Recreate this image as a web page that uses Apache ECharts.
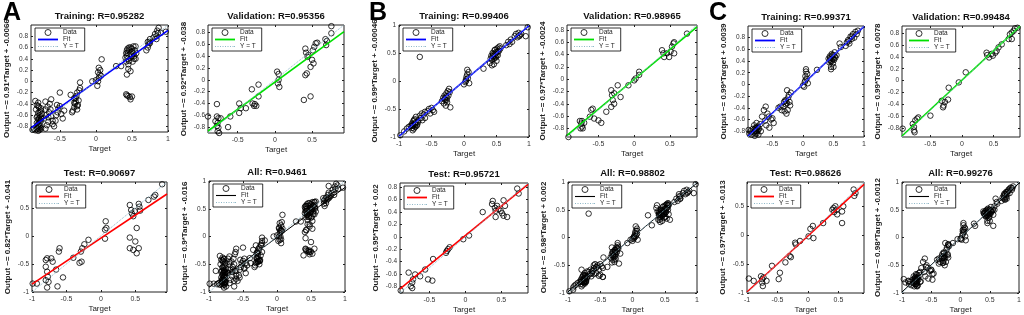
<!DOCTYPE html>
<html>
<head>
<meta charset="utf-8">
<script src="https://cdn.jsdelivr.net/npm/echarts@6/dist/echarts.min.js"></script>
<style>
  html, body { margin: 0; padding: 0; background: #fff; }
  #chart { width: 1024px; height: 315px; }
</style>
</head>
<body>
<div id="chart"></div>
<script>
// ---- data: [target, output] pairs ----
const aTrain = [
  [-0.88,-0.86],[-0.86,-0.84],[-0.84,-0.87],[-0.82,-0.85],[-0.8,-0.88],[-0.78,-0.86],[-0.76,-0.84],[-0.81,-0.82],
  [-0.79,-0.8],[-0.77,-0.78],[-0.8,-0.76],[-0.82,-0.74],[-0.78,-0.72],[-0.76,-0.7],[-0.8,-0.68],[-0.79,-0.66],
  [-0.77,-0.64],[-0.81,-0.62],[-0.78,-0.6],[-0.8,-0.56],[-0.83,-0.5],[-0.79,-0.46],[-0.82,-0.42],[-0.8,-0.38],
  [-0.84,-0.35],[-0.76,-0.52],[-0.75,-0.58],[-0.7,-0.84],[-0.68,-0.78],[-0.66,-0.72],[-0.72,-0.66],[-0.69,-0.6],
  [-0.65,-0.55],[-0.7,-0.5],[-0.67,-0.45],[-0.64,-0.4],[-0.7,-0.36],[-0.62,-0.32],[-0.6,-0.7],[-0.62,-0.62],
  [-0.58,-0.8],[-0.6,-0.76],[-0.55,-0.6],[-0.53,-0.55],[-0.52,-0.48],[-0.5,-0.44],[-0.54,-0.42],[-0.5,-0.2],
  [-0.48,-0.58],[-0.46,-0.66],[-0.44,-0.52],[-0.56,-0.7],[-0.32,-0.52],[-0.3,-0.46],[-0.29,-0.4],[-0.28,-0.36],
  [-0.3,-0.3],[-0.27,-0.26],[-0.26,-0.2],[-0.25,-0.42],[-0.24,-0.34],[-0.23,-0.16],[-0.22,-0.12],[-0.22,-0.02],
  [-0.33,-0.55],[-0.35,-0.24],[-0.26,-0.5],[-0.05,0.0],[0.02,-0.08],[0.03,0.0],[0.04,0.06],[0.05,0.12],
  [0.03,0.16],[0.06,0.2],[0.04,0.24],[0.07,0.1],[0.08,0.39],[0.0,0.02],[0.28,0.27],[0.35,0.27],
  [0.42,0.5],[0.43,0.45],[0.44,0.4],[0.42,0.35],[0.45,0.3],[0.43,0.55],[0.46,0.6],[0.47,0.48],
  [0.48,0.42],[0.5,0.52],[0.5,0.58],[0.52,0.62],[0.53,0.45],[0.51,0.35],[0.54,0.55],[0.55,0.62],
  [0.45,0.22],[0.43,0.12],[0.48,0.18],[0.55,0.4],[0.56,0.5],[0.41,0.42],[0.42,-0.23],[0.43,-0.25],
  [0.45,-0.26],[0.47,-0.28],[0.5,-0.27],[0.48,-0.32],[0.7,0.55],[0.72,0.6],[0.73,0.65],[0.74,0.7],
  [0.75,0.75],[0.72,0.7],[0.8,0.78],[0.82,0.84],[0.84,0.8],[0.85,0.9],[0.87,0.95],[0.9,0.86],
  [0.97,0.88],[0.84,0.75],[-0.79,-0.84],[-0.77,-0.82],[-0.81,-0.78],[-0.78,-0.74],[-0.76,-0.66],[-0.82,-0.64],
  [-0.78,-0.54],[-0.76,-0.48],[-0.8,-0.44],[-0.66,-0.64],[-0.63,-0.5],[-0.28,-0.3],[-0.3,-0.38],[-0.26,-0.44],
  [0.44,0.5],[0.46,0.55],[0.48,0.6],[0.44,0.58],[0.52,0.5],[0.5,0.45],[0.53,0.4],[0.46,0.36],
  [0.75,0.68],[0.86,0.86]
];
const aVal = [
  [-0.9,-0.62],[-0.78,-0.62],[-0.76,-0.65],[-0.77,-0.73],[-0.78,-0.78],[-0.76,-0.81],[-0.77,-0.87],[-0.75,-0.9],
  [-0.73,-0.65],[-0.78,-0.41],[-0.8,-0.7],[-0.63,-0.8],[-0.6,-0.62],[-0.48,-0.4],[-0.48,-0.56],[-0.46,-0.48],
  [-0.39,-0.48],[-0.31,-0.16],[-0.3,-0.4],[-0.28,-0.44],[-0.27,-0.41],[-0.25,-0.44],[-0.22,-0.08],[-0.22,-0.28],
  [0.03,0.14],[0.05,0.1],[0.04,-0.06],[0.06,-0.12],[0.05,0.0],[0.39,-0.34],[0.48,-0.28],[0.41,0.53],
  [0.42,0.46],[0.44,0.39],[0.45,0.42],[0.41,0.08],[0.43,0.11],[0.48,0.22],[0.5,0.34],[0.52,0.28],
  [0.51,0.5],[0.55,0.62],[0.57,0.63],[0.53,0.56],[0.68,0.69],[0.7,0.66],[0.69,0.59],[0.76,0.91],[0.76,0.79]
];
const aTest = [
  [-0.99,-0.85],[-0.93,-0.85],[-0.8,-0.43],[-0.78,-0.4],[-0.8,-0.55],[-0.78,-0.64],[-0.77,-0.73],[-0.8,-0.79],
  [-0.76,-0.82],[-0.78,-0.92],[-0.72,-0.4],[-0.7,-0.46],[-0.65,-0.6],[-0.63,-0.9],[-0.6,-0.22],[-0.61,-0.28],
  [-0.55,-0.74],[-0.4,-0.39],[-0.29,-0.28],[-0.28,-0.46],[-0.31,-0.48],[-0.27,-0.22],[-0.24,-0.15],[-0.18,-0.07],
  [0.06,-0.05],[0.07,0.26],[0.08,0.14],[0.06,0.11],[0.42,0.55],[0.44,0.46],[0.45,0.4],[0.47,0.35],
  [0.49,0.44],[0.55,0.57],[0.56,0.52],[0.57,0.45],[0.42,-0.03],[0.42,-0.22],[0.5,-0.1],[0.52,0.14],
  [0.55,-0.22],[0.52,-0.31],[0.47,-0.25],[0.69,0.64],[0.77,0.7],[0.79,0.73],[0.89,0.92]
];
const bTrain = [
  [-0.98,-0.97],[-0.92,-0.9],[-0.88,-0.85],[-0.85,-0.82],[-0.82,-0.8],[-0.8,-0.76],[-0.8,-0.84],[-0.79,-0.88],
  [-0.78,-0.72],[-0.78,-0.8],[-0.77,-0.85],[-0.76,-0.76],[-0.76,-0.68],[-0.75,-0.82],[-0.74,-0.74],[-0.74,-0.64],
  [-0.72,-0.78],[-0.7,-0.7],[-0.68,-0.62],[-0.66,-0.66],[-0.65,-0.58],[-0.64,-0.7],[-0.62,-0.6],[-0.6,-0.55],
  [-0.6,-0.66],[-0.56,-0.54],[-0.54,-0.5],[-0.52,-0.58],[-0.5,-0.48],[-0.48,-0.52],[-0.46,-0.55],[-0.68,0.43],
  [-0.34,-0.36],[-0.32,-0.3],[-0.31,-0.4],[-0.3,-0.26],[-0.29,-0.34],[-0.28,-0.44],[-0.27,-0.22],[-0.26,-0.3],
  [-0.25,-0.18],[-0.24,-0.26],[-0.23,-0.14],[-0.22,-0.2],[-0.21,-0.47],[-0.26,-0.38],[0.0,-0.06],[0.02,-0.02],
  [0.03,0.03],[0.04,0.08],[0.05,0.12],[0.06,0.05],[0.07,0.16],[0.05,0.2],[0.08,-0.04],[0.3,0.22],
  [0.4,0.32],[0.41,0.4],[0.42,0.45],[0.43,0.38],[0.44,0.5],[0.45,0.44],[0.46,0.4],[0.47,0.55],
  [0.48,0.48],[0.49,0.42],[0.5,0.52],[0.51,0.58],[0.52,0.46],[0.53,0.6],[0.54,0.54],[0.55,0.62],
  [0.43,0.28],[0.46,0.3],[0.5,0.36],[0.65,0.64],[0.68,0.7],[0.7,0.66],[0.72,0.74],[0.74,0.7],
  [0.78,0.8],[0.8,0.84],[0.82,0.78],[0.84,0.86],[0.86,0.82],[0.88,0.84],[0.95,0.8],[0.98,0.96],
  [-0.79,-0.78],[-0.77,-0.7],[-0.75,-0.78],[-0.8,-0.8],[-0.73,-0.8],[-0.71,-0.74],[-0.28,-0.28],[-0.27,-0.34],
  [-0.3,-0.32],[0.45,0.48],[0.47,0.42],[0.48,0.56],[0.52,0.52],[0.44,0.44],[0.5,0.46],[0.56,0.58],
  [0.85,0.8],[0.03,0.0]
];
const bVal = [
  [-0.92,-0.94],[-0.76,-0.68],[-0.74,-0.72],[-0.73,-0.77],[-0.72,-0.8],[-0.75,-0.8],[-0.7,-0.71],[-0.73,-0.68],
  [-0.62,-0.61],[-0.6,-0.5],[-0.58,-0.48],[-0.56,-0.64],[-0.5,-0.67],[-0.46,-0.71],[-0.39,-0.53],[-0.32,-0.18],
  [-0.31,-0.26],[-0.3,-0.34],[-0.32,-0.45],[-0.28,-0.4],[-0.28,-0.23],[-0.23,-0.1],[-0.19,-0.29],[-0.08,-0.1],
  [0.0,-0.02],[0.02,0.01],[0.07,0.12],[0.07,0.07],[0.39,0.47],[0.41,0.42],[0.42,0.36],[0.46,0.42],
  [0.49,0.36],[0.51,0.45],[0.53,0.53],[0.55,0.58],[0.56,0.6],[0.56,0.42],[0.74,0.74]
];
const bTest = [
  [-0.9,-0.87],[-0.79,-0.58],[-0.74,-0.74],[-0.76,-0.8],[-0.74,-0.83],[-0.73,-0.69],[-0.7,-0.61],[-0.63,-0.64],
  [-0.56,-0.53],[-0.52,-0.69],[-0.46,-0.71],[-0.45,-0.36],[-0.26,-0.23],[-0.24,-0.2],[-0.22,-0.17],[-0.27,-0.26],
  [-0.03,-0.04],[0.05,0.02],[0.24,0.4],[0.37,0.53],[0.38,0.58],[0.41,0.47],[0.42,0.42],[0.42,0.32],
  [0.44,0.5],[0.46,0.45],[0.49,0.42],[0.51,0.38],[0.53,0.59],[0.53,0.34],[0.55,0.5],[0.58,0.32],
  [0.72,0.78],[0.74,0.7]
];
const cTrain = [
  [-0.89,-0.78],[-0.88,-0.84],[-0.86,-0.8],[-0.84,-0.86],[-0.82,-0.76],[-0.8,-0.82],[-0.8,-0.7],[-0.79,-0.88],
  [-0.78,-0.78],[-0.77,-0.74],[-0.76,-0.84],[-0.76,-0.66],[-0.75,-0.8],[-0.74,-0.72],[-0.73,-0.86],[-0.72,-0.76],
  [-0.7,-0.68],[-0.69,-0.8],[-0.67,-0.55],[-0.64,-0.44],[-0.61,-0.38],[-0.62,-0.62],[-0.6,-0.7],[-0.58,-0.5],
  [-0.56,-0.55],[-0.55,-0.74],[-0.52,-0.6],[-0.5,-0.58],[-0.48,-0.66],[-0.4,-0.4],[-0.37,-0.38],[-0.35,-0.44],
  [-0.32,-0.38],[-0.31,-0.3],[-0.3,-0.46],[-0.29,-0.27],[-0.28,-0.34],[-0.27,-0.5],[-0.26,-0.1],[-0.25,-0.44],
  [-0.24,-0.22],[-0.23,-0.18],[-0.22,-0.3],[-0.21,-0.36],[-0.2,-0.14],[0.0,-0.02],[0.02,-0.04],[0.03,0.04],
  [0.04,0.07],[0.04,0.14],[0.05,0.22],[0.06,0.1],[0.07,0.18],[0.05,0.26],[0.08,0.02],[0.23,0.25],
  [0.42,0.44],[0.43,0.38],[0.44,0.48],[0.45,0.4],[0.46,0.3],[0.47,0.52],[0.48,0.44],[0.49,0.36],
  [0.5,0.5],[0.51,0.42],[0.52,0.55],[0.53,0.46],[0.55,0.5],[0.46,0.26],[0.5,0.3],[0.6,0.7],
  [0.62,0.64],[0.7,0.66],[0.72,0.72],[0.74,0.76],[0.76,0.7],[0.78,0.82],[0.8,0.78],[0.82,0.86],
  [0.84,0.8],[0.86,0.9],[0.88,0.86],[0.9,0.92],
  [-0.79,-0.76],[-0.77,-0.8],[-0.75,-0.74],[-0.78,-0.84],[-0.74,-0.78],[-0.28,-0.28],[-0.26,-0.32],[0.45,0.46],
  [0.48,0.5],[0.47,0.4],[0.5,0.44],[0.52,0.48],[0.44,0.42],[0.8,0.82],[0.75,0.74]
];
const cVal = [
  [-0.94,-0.81],[-0.78,-0.73],[-0.76,-0.78],[-0.76,-0.84],[-0.75,-0.87],[-0.74,-0.67],[-0.71,-0.64],[-0.69,-0.62],
  [-0.5,-0.59],[-0.32,-0.34],[-0.3,-0.45],[-0.29,-0.42],[-0.27,-0.36],[-0.22,-0.32],[-0.21,-0.12],[-0.05,-0.03],
  [0.06,0.14],[0.39,0.47],[0.4,0.43],[0.43,0.39],[0.47,0.45],[0.49,0.42],[0.53,0.47],[0.55,0.5],
  [0.58,0.56],[0.63,0.61],[0.74,0.7],[0.76,0.78],[0.79,0.81],[0.82,0.84],[0.84,0.88],[0.88,0.89],[0.79,0.7]
];
const cTest = [
  [-0.97,-0.75],[-0.89,-0.79],[-0.77,-0.71],[-0.75,-0.76],[-0.75,-0.82],[-0.74,-0.88],[-0.73,-0.73],[-0.68,-0.79],
  [-0.59,-0.53],[-0.48,-0.76],[-0.46,-0.65],[-0.37,-0.47],[-0.3,-0.36],[-0.28,-0.38],[-0.21,-0.13],[-0.2,-0.16],
  [-0.13,-0.1],[0.01,-0.02],[0.04,0.11],[0.08,0.16],[0.09,-0.05],[0.25,0.21],[0.4,0.44],[0.42,0.47],
  [0.43,0.4],[0.45,0.5],[0.47,0.44],[0.48,0.36],[0.56,0.21],[0.56,0.41],[0.58,0.5],[0.75,0.79],
  [0.78,0.73],[0.76,0.68]
];

// plot order: A-train, A-val, B-train, B-val, C-train, C-val, A-test, A-all, B-test, B-all, C-test, C-all
const plotData = [
  aTrain, aVal, bTrain, bVal, cTrain, cVal,
  aTest, aTrain.concat(aVal, aTest), bTest, bTrain.concat(bVal, bTest), cTest, cTrain.concat(cVal, cTest)
];
const titles = [
  'Training: R=0.95282', 'Validation: R=0.95356', 'Training: R=0.99406', 'Validation: R=0.98965',
  'Training: R=0.99371', 'Validation: R=0.99484', 'Test: R=0.90697', 'All: R=0.9461',
  'Test: R=0.95721', 'All: R=0.98802', 'Test: R=0.98626', 'All: R=0.99276'
];
const slopes = [0.91, 0.92, 0.99, 0.97, 0.99, 0.99, 0.82, 0.9, 0.95, 0.98, 0.97, 0.98];
const intercepts = [-0.0066, -0.038, -0.00046, -0.0024, 0.0039, 0.0078, -0.041, -0.016, 0.02, 0.002, -0.013, -0.0012];
const yLabels = [
  'Output ~= 0.91*Target + -0.0066', 'Output ~= 0.92*Target + -0.038',
  'Output ~= 0.99*Target + -0.00046', 'Output ~= 0.97*Target + -0.0024',
  'Output ~= 0.99*Target + 0.0039', 'Output ~= 0.99*Target + 0.0078',
  'Output ~= 0.82*Target + -0.041', 'Output ~= 0.9*Target + -0.016',
  'Output ~= 0.95*Target + 0.02', 'Output ~= 0.98*Target + 0.002',
  'Output ~= 0.97*Target + -0.013', 'Output ~= 0.98*Target + -0.0012'
];
const limits = [
  [-0.9, 1.0], [-0.9, 0.93], [-1, 1], [-0.94, 0.88], [-0.9, 1.0], [-0.95, 0.92],
  [-1, 0.96], [-1, 1], [-0.91, 0.87], [-1, 1], [-1, 0.92], [-1, 1]
];
const ticksHalf = [-1, -0.5, 0, 0.5, 1];
const ticksFifth = [-0.8, -0.6, -0.4, -0.2, 0, 0.2, 0.4, 0.6, 0.8];
const xTicks = [ticksHalf, ticksHalf, ticksHalf, ticksHalf, ticksHalf, ticksHalf,
                ticksHalf, ticksHalf, ticksHalf, ticksHalf, ticksHalf, ticksHalf];
const yTicks = [ticksFifth, ticksFifth, ticksHalf, ticksFifth, ticksFifth, ticksFifth,
                ticksHalf, ticksHalf, ticksFifth, ticksHalf, ticksHalf, ticksHalf];
const fitColors = ['#0000ff', '#00e000', '#0000ff', '#00e000', '#0000ff', '#00e000',
                   '#ff0000', '#000000', '#ff0000', '#000000', '#ff0000', '#000000'];
const panelLetters = ['A', 'B', 'C'];

// ---- layout (pixels): left, top, width, height ----
const boxes = [
  [31, 25, 137, 107], [208, 25, 136, 108], [399, 25, 130, 112], [567, 25, 130, 112],
  [748, 26, 116, 111], [902, 26, 118, 111],
  [32, 182, 135, 110], [209, 181, 136, 111], [400, 183, 128, 110], [568, 182, 129, 111],
  [747, 182, 117, 111], [902, 182, 117, 111]
];
const letterX = [3, 369, 709];
const FONT = 'Liberation Sans';
const YT_COLOR = '#8fb8c8';

const chart = echarts.init(document.getElementById('chart'), null, { renderer: 'canvas' });

const fmt = v => (Math.abs(v) < 1e-9 ? '0' : String(+v.toFixed(2)));

const grid = [], xAxis = [], yAxis = [], series = [], legend = [], graphic = [];
const mirrorX = [], mirrorY = [];

boxes.forEach((b, i) => {
  const [lo, hi] = limits[i];
  const inT = t => t.filter(v => v >= lo - 1e-9 && v <= hi + 1e-9);
  const bold = fitColors[i] !== '#000000';
  const tick = vals => ({ inside: true, length: 2, customValues: vals, lineStyle: { color: '#222' } });
  grid.push({
    left: b[0], top: b[1], width: b[2], height: b[3],
    show: true, borderColor: '#222', borderWidth: 1, backgroundColor: '#fff'
  });
  xAxis.push({
    type: 'value', gridIndex: i, min: lo, max: hi,
    axisLine: { show: false, onZero: false }, splitLine: { show: false },
    axisTick: tick(inT(xTicks[i])),
    axisLabel: { customValues: inT(xTicks[i]), formatter: fmt, fontSize: 7, color: '#333', margin: 4, fontFamily: FONT },
    name: 'Target', nameLocation: 'middle', nameGap: 13,
    nameTextStyle: { fontSize: 8, color: '#222', fontFamily: FONT }
  });
  yAxis.push({
    type: 'value', gridIndex: i, min: lo, max: hi,
    axisLine: { show: false, onZero: false }, splitLine: { show: false },
    axisTick: tick(inT(yTicks[i])),
    axisLabel: { customValues: inT(yTicks[i]), formatter: fmt, fontSize: 6.5, color: '#333', margin: 3, fontFamily: FONT },
    name: yLabels[i], nameLocation: 'middle', nameGap: 20, nameRotate: 90,
    nameTextStyle: { fontSize: 8, fontWeight: 'bold', color: '#222', fontFamily: FONT }
  });
  // box ticks on the top and right edges, as in the original figure
  mirrorX.push({
    type: 'value', gridIndex: i, min: lo, max: hi, position: 'top',
    axisLine: { show: false, onZero: false }, splitLine: { show: false },
    axisTick: tick(inT(xTicks[i])), axisLabel: { show: false }
  });
  mirrorY.push({
    type: 'value', gridIndex: i, min: lo, max: hi, position: 'right',
    axisLine: { show: false, onZero: false }, splitLine: { show: false },
    axisTick: tick(inT(yTicks[i])), axisLabel: { show: false }
  });
  const sfx = '|' + i;
  series.push({
    name: 'Data' + sfx, type: 'scatter', xAxisIndex: i, yAxisIndex: i,
    data: plotData[i], symbol: 'circle', symbolSize: 5.5,
    itemStyle: { color: 'rgba(255,255,255,0)', borderColor: '#000', borderWidth: 1 },
    z: 2
  });
  series.push({
    name: 'Fit' + sfx, type: 'line', xAxisIndex: i, yAxisIndex: i,
    data: [[lo, slopes[i] * lo + intercepts[i]], [hi, slopes[i] * hi + intercepts[i]]],
    symbol: 'none', lineStyle: { color: fitColors[i], width: bold ? 1.6 : 1 },
    itemStyle: { color: fitColors[i] }, z: 3
  });
  series.push({
    name: 'Y = T' + sfx, type: 'line', xAxisIndex: i, yAxisIndex: i,
    data: [[lo, lo], [hi, hi]],
    symbol: 'none', lineStyle: { color: YT_COLOR, width: 1, type: 'dotted' },
    itemStyle: { color: YT_COLOR }, z: 4
  });
  legend.push({
    orient: 'vertical', left: b[0] + 4, top: b[1] + 3,
    data: [
      { name: 'Data' + sfx, icon: 'circle',
        itemStyle: { color: 'rgba(255,255,255,0)', borderColor: '#000', borderWidth: 1 } },
      { name: 'Fit' + sfx, icon: bold ? 'path://M0,0H20V1.8H0Z' : 'path://M0,0H20V1.1H0Z',
        itemStyle: { color: fitColors[i], borderWidth: 0 } },
      { name: 'Y = T' + sfx,
        icon: 'path://M0,0H1V1H0ZM2.5,0H3.5V1H2.5ZM5,0H6V1H5ZM7.5,0H8.5V1H7.5ZM10,0H11V1H10ZM12.5,0H13.5V1H12.5ZM15,0H16V1H15ZM17.5,0H18.5V1H17.5ZM19,0H20V1H19Z',
        itemStyle: { color: YT_COLOR, borderWidth: 0 } }
    ],
    formatter: n => n.split('|')[0],
    itemGap: 0, itemWidth: 20, itemHeight: 6, symbolKeepAspect: true,
    padding: [1, 6, 1, 3],
    backgroundColor: '#fff', borderColor: '#000', borderWidth: 0.8, borderRadius: 0,
    textStyle: { fontSize: 6.5, color: '#222', fontFamily: FONT },
    selectedMode: false
  });
  graphic.push({
    type: 'text', x: b[0] + b[2] / 2, y: b[1] - 9,
    style: { text: titles[i], font: 'bold 9.5px "' + FONT + '"', fill: '#111', textAlign: 'center', textVerticalAlign: 'middle' }
  });
});

panelLetters.forEach((L, k) => {
  graphic.push({
    type: 'text', x: letterX[k], y: 1,
    style: { text: L, font: 'bold 25px "' + FONT + '"', fill: '#000', textAlign: 'left', textVerticalAlign: 'top' }
  });
});

chart.setOption({
  animation: false,
  backgroundColor: '#fff',
  textStyle: { fontFamily: FONT },
  grid,
  xAxis: xAxis.concat(mirrorX),
  yAxis: yAxis.concat(mirrorY),
  series, legend, graphic
});
</script>
</body>
</html>
